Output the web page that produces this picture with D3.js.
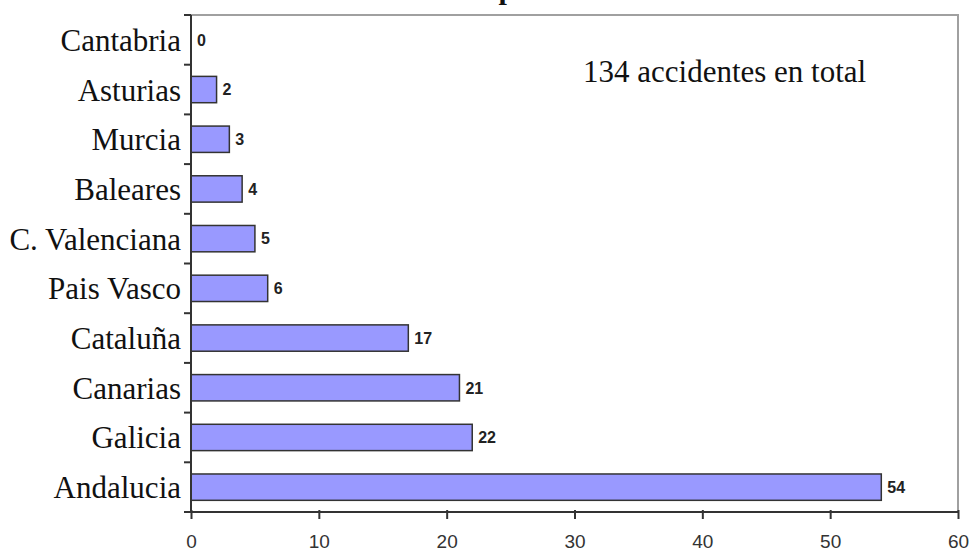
<!DOCTYPE html>
<html>
<head>
<meta charset="utf-8">
<script src="https://cdn.jsdelivr.net/npm/d3@7"></script>
<style>
  body { margin: 0; background: #fff; }
  svg { display: block; }
</style>
</head>
<body>
<div id="chart"></div>
<script>
// data
const regions = ["Cantabria", "Asturias", "Murcia", "Baleares", "C. Valenciana",
                 "Pais Vasco", "Cataluña", "Canarias", "Galicia", "Andalucia"];
const accidents = [0, 2, 3, 4, 5, 6, 17, 21, 22, 54];
const xTicks = [0, 10, 20, 30, 40, 50, 60];
const totalNote = "134 accidentes en total";
const titleText = "Accidentes por comunidad autónoma";

const width = 972, height = 552;
const margin = {top: 15, right: 14, bottom: 40, left: 191};

const svg = d3.select("#chart").append("svg")
    .attr("width", width)
    .attr("height", height);

const x = d3.scaleLinear()
    .domain([0, 60])
    .range([margin.left, width - margin.right]);

const y = d3.scaleBand()
    .domain(regions)
    .range([margin.top, height - margin.bottom])
    .paddingInner(0.47)
    .paddingOuter(0.235);

// band edges for the category ticks
const yEdges = d3.scaleBand()
    .domain(regions)
    .range([margin.top, height - margin.bottom]);

// cut-off title, only the descender peeks in
const probe = svg.append("text")
    .attr("font-family", "Liberation Serif")
    .attr("font-weight", "bold")
    .attr("font-size", 30)
    .text("Accidentes ");
const preW = probe.node().getComputedTextLength();
probe.remove();
svg.append("text")
    .attr("x", 491 - preW)
    .attr("y", -1)
    .attr("font-family", "Liberation Serif")
    .attr("font-weight", "bold")
    .attr("font-size", 30)
    .attr("fill", "#111")
    .text(titleText);

// plot frame (top and right in grey)
svg.append("path")
    .attr("d", `M${x(0)},${margin.top}H${x(60)}V${height - margin.bottom}`)
    .attr("fill", "none")
    .attr("stroke", "#a0a0a0")
    .attr("stroke-width", 2);

// bars
svg.selectAll(".bar")
    .data(accidents)
    .enter()
    .append("rect")
    .attr("class", "bar")
    .attr("x", x(0))
    .attr("y", (d, i) => y(regions[i]))
    .attr("width", d => x(d) - x(0))
    .attr("height", y.bandwidth())
    .attr("fill", "#9999ff")
    .attr("stroke", "#333")
    .attr("stroke-width", 1.5);

// value labels
svg.selectAll(".val")
    .data(accidents)
    .enter()
    .append("text")
    .attr("class", "val")
    .attr("x", d => x(d) + 6)
    .attr("y", (d, i) => y(regions[i]) + y.bandwidth() / 2)
    .attr("dy", "0.36em")
    .attr("font-family", "Liberation Sans")
    .attr("font-weight", "bold")
    .attr("font-size", 16)
    .attr("fill", "#222")
    .text(d => d);

// y axis line + outward ticks at band edges
const yAxisG = svg.append("g").attr("stroke", "#333").attr("stroke-width", 2);
yAxisG.append("line")
    .attr("x1", x(0)).attr("x2", x(0))
    .attr("y1", margin.top).attr("y2", height - margin.bottom);
yAxisG.selectAll(".ytick")
    .data(regions.slice(1).map(r => yEdges(r)).concat([margin.top, height - margin.bottom]))
    .enter()
    .append("line")
    .attr("x1", x(0) - 7).attr("x2", x(0))
    .attr("y1", d => d).attr("y2", d => d);

// category labels
svg.selectAll(".cat")
    .data(regions)
    .enter()
    .append("text")
    .attr("class", "cat")
    .attr("x", x(0) - 10)
    .attr("y", d => yEdges(d) + yEdges.bandwidth() / 2 + 11)
    .attr("text-anchor", "end")
    .attr("font-family", "Liberation Serif")
    .attr("font-size", 31)
    .attr("fill", "#111")
    .text(d => d);

// x axis
const xAxis = d3.axisBottom(x)
    .tickValues(xTicks)
    .tickSize(7)
    .tickFormat(d3.format("d"));

const xg = svg.append("g")
    .attr("transform", `translate(0,${height - margin.bottom})`)
    .call(xAxis);
xg.select(".domain").attr("stroke", "#333").attr("stroke-width", 2)
    .attr("d", `M${x(0) - 7},0H${x(60)}`);
xg.selectAll(".tick line").attr("stroke", "#333").attr("stroke-width", 2)
    .attr("y1", -2).attr("y2", 7);
xg.selectAll(".tick text")
    .attr("font-family", "Liberation Sans")
    .attr("font-size", 19)
    .attr("fill", "#333")
    .attr("y", 23);

// note
svg.append("text")
    .attr("x", 583)
    .attr("y", 82)
    .attr("font-family", "Liberation Serif")
    .attr("font-size", 31)
    .attr("fill", "#111")
    .text(totalNote);
</script>
</body>
</html>
